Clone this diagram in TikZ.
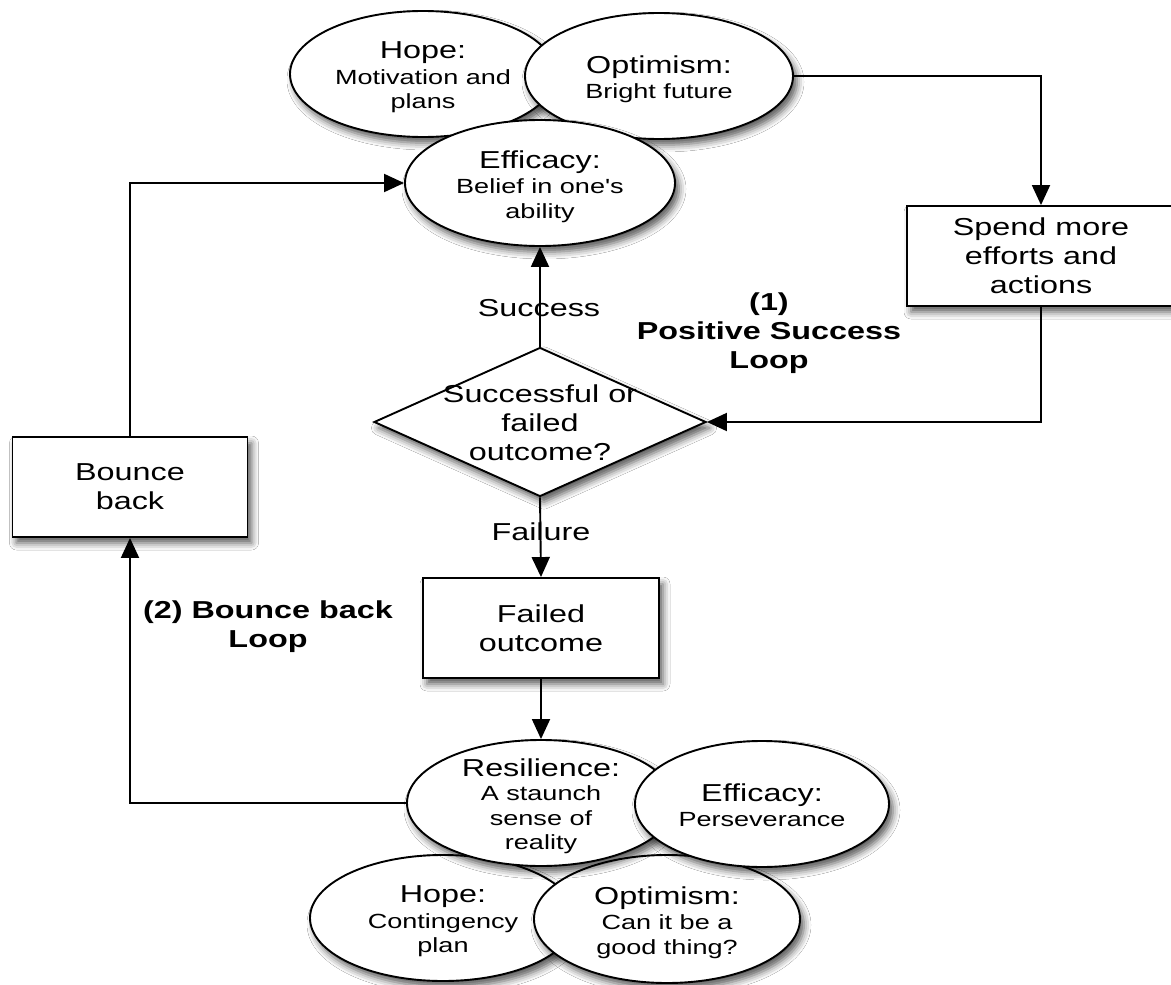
\documentclass[tikz,border=0pt]{standalone}
\usepackage{fontspec}
\setmainfont{Liberation Sans}[FakeStretch=1.32,Ligatures=TeXOff]
\usetikzlibrary{shapes.geometric,arrows.meta,shadows.blur}

% type sizes: headings/box text and the smaller descriptive lines
\newcommand{\lgtxt}{\fontsize{24.5}{29}\selectfont}
\newcommand{\smtxt}{\fontsize{20.5}{24.5}\selectfont}
% centred text block that does not influence the size of its shape
\newcommand{\blocktext}[1]{\makebox[0pt]{\raisebox{-10pt}{\begin{tabular}{@{}c@{}}#1\end{tabular}}}}

\begin{document}
\begin{tikzpicture}[x=1pt,y=-1pt,
  softshadow/.style={blur shadow={shadow xshift=4pt,shadow yshift=-6pt,shadow blur radius=7pt,shadow opacity=65}},
  oval/.style={ellipse,draw,fill=white,line width=1.9pt,inner sep=0pt,
    text height=0pt,text depth=0pt,font=\smtxt,minimum height=126pt,softshadow},
  stepbox/.style={rectangle,draw,fill=white,line width=1.9pt,inner sep=0pt,
    align=center,font=\lgtxt,minimum height=100pt,softshadow},
  decide/.style={diamond,draw,fill=white,line width=1.9pt,inner sep=0pt,
    text height=0pt,text depth=0pt,font=\lgtxt,
    minimum width=332pt,minimum height=149pt,softshadow},
  conn/.style={line width=1.9pt,-{Triangle[length=20pt,width=18pt]}},
  lbl/.style={font=\lgtxt,inner sep=0pt},
  looplbl/.style={font=\lgtxt\bfseries,align=center,inner sep=0pt}]

\fill[white] (0,0) rectangle (1171,985);
\path[use as bounding box] (0,0) rectangle (1171,985);

% upper cluster of capacities
\node[oval,minimum width=266pt] (hopeT) at (423,74)
  {\blocktext{\lgtxt Hope:\\[1pt] Motivation and\\ plans}};
\node[oval,minimum width=268pt] (optT) at (659,76)
  {\blocktext{\lgtxt Optimism:\\[1pt] Bright future}};
\node[oval,minimum width=270pt] (effT) at (540,183)
  {\blocktext{\lgtxt Efficacy:\\[1pt] Belief in one's\\ ability}};

% process steps
\node[stepbox,minimum width=268pt] (spend) at (1041,256) {Spend more\\efforts and\\actions};
\node[decide] (dia) at (540,422) {\blocktext{Successful or\\ failed\\ outcome?}};
\node[stepbox,minimum width=236pt] (failed) at (541,628) {Failed\\outcome};
\node[stepbox,minimum width=235pt] (bounce) at (130,487) {Bounce\\back};

% lower cluster of capacities
\node[oval,minimum width=266pt] (hopeB) at (443,918)
  {\blocktext{\lgtxt Hope:\\[1pt] Contingency\\ plan}};
\node[oval,minimum width=266pt,minimum height=128pt] (optB) at (667,919)
  {\blocktext{\lgtxt Optimism:\\[1pt] Can it be a\\ good thing?}};
\node[oval,minimum width=268pt] (resil) at (541,803)
  {\blocktext{\lgtxt Resilience:\\[0pt] A staunch\\ sense of\\ reality}};
\node[oval,minimum width=254pt] (effB) at (762,804)
  {\blocktext{\lgtxt Efficacy:\\[1pt] Perseverance}};

% connectors
\draw[conn] (optT.east) -| (spend.north);
\draw[conn] (spend.south) |- (dia.east);
\draw[conn] (dia.north) -- (effT.south);
\draw[conn] (dia.south) -- (failed.north);
\draw[conn] (failed.south) -- (resil.north);
\draw[conn] (resil.west) -| (bounce.south);
\draw[conn] (bounce.north) |- (effT.west);

% branch and loop labels
\node[lbl] (succ) at (539,308) {Success};
\node[lbl] (fail) at (541,532) {Failure};
\node[looplbl] (loopA) at (769,333) {(1)\\Positive Success\\Loop};
\node[looplbl] (loopB) at (268,627) {(2) Bounce back\\Loop};
\end{tikzpicture}
\end{document}
